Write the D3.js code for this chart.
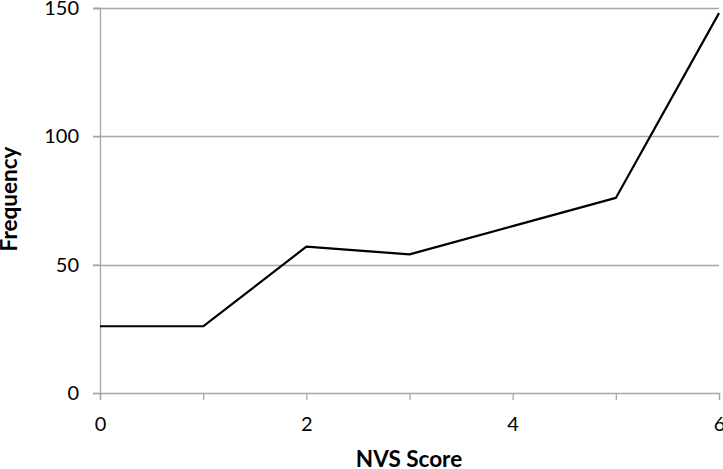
<!DOCTYPE html>
<html>
<head>
<meta charset="utf-8">
<script src="https://cdn.jsdelivr.net/npm/d3@7"></script>
<style>
  body { margin: 0; background: #fff; }
  .tick text { font-family: Lato, sans-serif; font-size: 20px; fill: #000; }
  .title { font-family: Lato, sans-serif; font-size: 22.5px; font-weight: bold; }
</style>
</head>
<body>
<div id="chart"></div>
<script>
var scores = [0, 1, 2, 3, 4, 5, 6];
var frequency = [26, 26, 57, 54, 65, 76, 148];
var yTicks = [0, 50, 100, 150];
var xTicks = [0, 2, 4, 6];

var margin = { top: 8, right: 4, bottom: 76, left: 100 },
  width = 723 - margin.left - margin.right,
  height = 469 - margin.top - margin.bottom;

const svg = d3
  .select("#chart")
  .append("svg")
  .attr("width", 723)
  .attr("height", 469)
  .append("g")
  .attr("transform", "translate(" + margin.left + "," + margin.top + ")");

var x = d3.scaleLinear().domain([0, 6]).range([0, 619]);
var y = d3.scaleLinear().domain([0, 150]).range([385, 0]);

// gridlines
svg.append("g")
  .selectAll("line")
  .data(yTicks.filter(d => d > 0))
  .join("line")
    .attr("x1", -7)
    .attr("x2", x(6))
    .attr("y1", d => Math.round(y(d)) + 0.5)
    .attr("y2", d => Math.round(y(d)) + 0.5)
    .attr("stroke", "#a6a6a6")
    .attr("stroke-width", 1.3);

// y axis
var yAxis = svg.append("g")
  .call(d3.axisLeft(y).tickValues(yTicks).tickSize(7).tickPadding(14));
yAxis.select(".domain").attr("stroke", "#a6a6a6").attr("stroke-width", 1.3);
yAxis.selectAll(".tick line").attr("stroke", "#a6a6a6").attr("stroke-width", 1.3);

// x axis
var xAxis = svg.append("g")
  .attr("transform", "translate(0," + y(0) + ")")
  .call(d3.axisBottom(x).tickValues(scores).tickSize(7).tickPadding(17).tickFormat(d => xTicks.includes(d) ? d : ""));
xAxis.select(".domain").attr("stroke", "#a6a6a6").attr("stroke-width", 1.3);
xAxis.selectAll(".tick line").attr("stroke", "#a6a6a6").attr("stroke-width", 1.3);

// the line
var line = d3.line()
  .x(function(d, i) { return x(scores[i]); })
  .y(function(d) { return y(d); });

svg.append("path")
  .datum(frequency)
  .attr("fill", "none")
  .attr("stroke", "#000")
  .attr("stroke-width", 2.2)
  .attr("stroke-linejoin", "round")
  .attr("d", line);

// axis titles
svg.append("text")
  .attr("class", "title")
  .attr("x", 309)
  .attr("y", 467 - margin.top)
  .attr("text-anchor", "middle")
  .text("NVS Score");

svg.append("text")
  .attr("class", "title")
  .attr("transform", "translate(" + (17 - margin.left) + "," + (199 - margin.top) + ") rotate(-90)")
  .attr("text-anchor", "middle")
  .text("Frequency");
</script>
</body>
</html>
